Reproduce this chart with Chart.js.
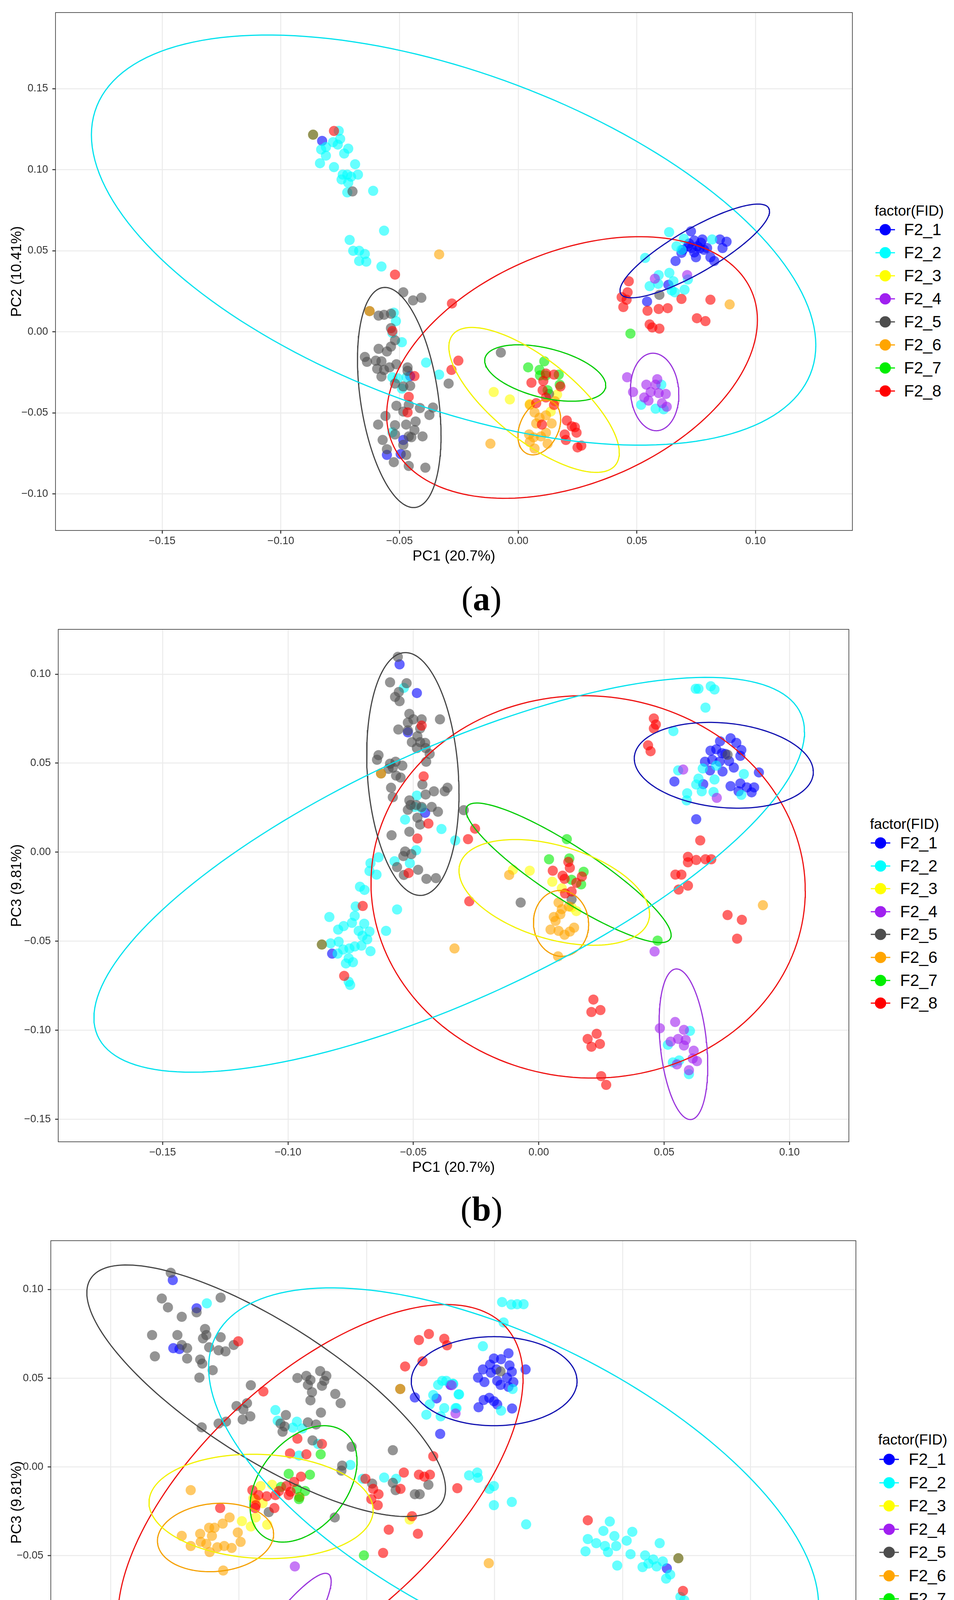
<!DOCTYPE html>
<html>
<head>
<meta charset="utf-8">
<script src="https://cdn.jsdelivr.net/npm/chart.js@4.4.1/dist/chart.umd.min.js"></script>
<style>
  body { margin: 0; background: #fff; width: 2441px; height: 4759px; position: relative; overflow: hidden;
         font-family: "Liberation Sans", Arial, sans-serif; }
  canvas { position: absolute; left: 0; }
  .lg-title, .lg-text { position: absolute; line-height: 1; transform: translateY(-50%); color: #000; white-space: nowrap; }
  .lg-title { font-size: 37px; }
  .lg-text { font-size: 42px; }
  .lg-line { position: absolute; height: 3px; transform: translateY(-50%); }
  .lg-dot { position: absolute; width: 29px; height: 29px; border-radius: 50%; transform: translate(-50%, -50%); }
  .tag { position: absolute; font-family: "Liberation Serif", "Times New Roman", serif; font-size: 88px;
         line-height: 1; transform: translateX(-50%); white-space: nowrap; }
</style>
</head>
<body>
<script>
// ---- groups ----
const groups = ["F2_1", "F2_2", "F2_3", "F2_4", "F2_5", "F2_6", "F2_7", "F2_8"];
const pointColors = ["#0000ff", "#00ffff", "#ffff00", "#a020f0", "#4d4d4d", "#ffa500", "#00ee00", "#ff0000"];
const ellipseColors = ["#1010b0", "#00e2ee", "#f2f200", "#9a35dc", "#454545", "#f5a000", "#00cc00", "#ee1111"];

// ---- panel (a): PC1 vs PC2 ----
const a_F2_1 = [[0.0728,0.062],[0.0742,0.0563],[0.0776,0.057],[0.0715,0.0528],[0.0694,0.0506],[0.0731,0.0517],[0.0755,0.0528],[0.0796,0.0517],[0.085,0.057],[0.0878,0.0556],[0.0861,0.0517],[0.0688,0.0487],[0.0749,0.046],[0.081,0.046],[0.0663,0.0437],[0.0826,0.0437],[0.0742,0.049],[0.0783,0.0506],[0.077,0.055],[0.072,0.0545],[0.0765,0.0515],[0.0543,0.0187],[0.0633,0.029],[-0.0826,0.1178],[-0.0455,-0.0273],[-0.0484,-0.0667],[-0.0553,-0.0759],[-0.0495,-0.0754]];
const a_F2_2 = [[-0.0756,0.124],[-0.075,0.119],[-0.078,0.117],[-0.081,0.114],[-0.083,0.1125],[-0.076,0.1155],[-0.0716,0.113],[-0.0733,0.11],[-0.081,0.1087],[-0.0835,0.104],[-0.0776,0.1016],[-0.0687,0.1034],[-0.0739,0.097],[-0.072,0.097],[-0.0675,0.097],[-0.0704,0.0957],[-0.0744,0.094],[-0.0716,0.092],[-0.072,0.086],[-0.0611,0.087],[-0.0565,0.0624],[-0.071,0.0567],[-0.0695,0.05],[-0.067,0.05],[-0.0646,0.048],[-0.067,0.0437],[-0.064,0.0433],[-0.0576,0.0403],[-0.0524,0.0118],[-0.0515,0.0066],[-0.053,-0.0007],[-0.049,-0.0064],[-0.0388,-0.019],[-0.0333,-0.0264],[-0.053,-0.028],[-0.0507,-0.0287],[-0.049,-0.035],[-0.047,-0.028],[-0.053,-0.062],[0.0636,0.0615],[0.0698,0.0574],[0.0667,0.0528],[0.0688,0.0506],[0.0817,0.057],[0.0535,0.0456],[0.0592,0.035],[0.0637,0.0364],[0.0554,0.0282],[0.059,0.0296],[0.0654,0.0312],[0.0715,0.0323],[0.0701,0.026],[0.0647,0.0255],[0.066,0.0244],[0.0603,-0.0326],[0.0518,-0.045],[0.0579,-0.0474],[0.0613,-0.0478]];
const a_F2_3 = [[-0.0103,-0.0371],[-0.0035,-0.0417],[0.0137,-0.0492],[0.0164,-0.0387],[0.0049,-0.0446],[-0.0864,0.1216]];
const a_F2_4 = [[0.0459,-0.028],[0.054,-0.0326],[0.0586,-0.0292],[0.0579,-0.0326],[0.0484,-0.0371],[0.0558,-0.0371],[0.0592,-0.0378],[0.0622,-0.0383],[0.0531,-0.0405],[0.0549,-0.0424],[0.0606,-0.044],[0.0626,-0.0462],[0.0576,0.0328],[0.0712,0.035]];
const a_F2_5 = [[-0.0484,0.0244],[-0.0443,0.0194],[-0.0408,0.021],[-0.0588,0.01],[-0.0565,0.0105],[-0.0536,0.0112],[-0.0536,0.0023],[-0.0519,-0.0052],[-0.0536,-0.0091],[-0.0588,-0.0105],[-0.0553,-0.0121],[-0.0646,-0.0155],[-0.0637,-0.0185],[-0.06,-0.0178],[-0.0576,-0.0182],[-0.0594,-0.0228],[-0.0565,-0.0235],[-0.0542,-0.0219],[-0.0513,-0.02],[-0.0466,-0.0219],[-0.0466,-0.0241],[-0.0576,-0.0276],[-0.0293,-0.0319],[-0.0519,-0.0319],[-0.0484,-0.0337],[-0.0455,-0.0333],[-0.0513,-0.0456],[-0.0461,-0.0451],[-0.0414,-0.047],[-0.0359,-0.0467],[-0.0559,-0.0519],[-0.0484,-0.0492],[-0.0374,-0.0513],[-0.059,-0.0572],[-0.0519,-0.0576],[-0.0472,-0.0572],[-0.0432,-0.0553],[-0.0437,-0.0606],[-0.0519,-0.0633],[-0.0461,-0.0645],[-0.0403,-0.0645],[-0.0571,-0.0667],[-0.0484,-0.0697],[-0.0553,-0.0724],[-0.0472,-0.0759],[-0.0524,-0.0804],[-0.0461,-0.0827],[-0.0391,-0.0838],[-0.045,-0.065],[-0.0698,0.0866],[-0.0864,0.1216],[-0.0073,-0.0128],[0.013,-0.0383],[-0.0626,0.0128],[0.0595,0.0228]];
const a_F2_6 = [[-0.0333,0.0478],[-0.0626,0.0128],[-0.0117,-0.069],[0.0069,-0.0497],[0.009,-0.053],[0.0117,-0.0515],[0.0076,-0.0565],[0.0141,-0.0565],[0.0046,-0.0633],[0.0065,-0.0651],[0.0096,-0.0645],[0.0117,-0.0622],[0.0049,-0.0679],[0.0124,-0.069],[0.0069,-0.072],[0.0155,-0.0428],[0.0049,-0.045],[0.0891,0.0169]];
const a_F2_7 = [[0.0042,-0.0219],[0.011,-0.0182],[0.009,-0.0235],[0.0117,-0.0269],[0.0171,-0.0264],[0.0175,-0.0326],[0.0092,-0.0269],[0.0473,-0.0011],[0.0124,-0.036]];
const a_F2_8 = [[-0.0776,0.1239],[-0.0519,0.0353],[-0.0279,0.0175],[-0.0252,-0.0178],[-0.0281,-0.0235],[-0.0437,-0.0273],[-0.053,0.0005],[-0.0461,-0.0401],[-0.0466,-0.0497],[0.0056,-0.0314],[0.0117,-0.0257],[0.0151,-0.0264],[0.0106,-0.0303],[0.0103,-0.036],[0.0178,-0.0337],[0.0076,-0.044],[0.0117,-0.0405],[0.0151,-0.0451],[0.01,-0.0572],[0.0205,-0.0547],[0.0226,-0.0583],[0.0246,-0.0622],[0.0239,-0.0588],[0.0196,-0.0633],[0.0201,-0.0667],[0.025,-0.0713],[0.0266,-0.0702],[0.0466,0.0312],[0.0461,0.0244],[0.0436,0.0214],[0.0457,0.0198],[0.0443,0.0153],[0.0545,0.013],[0.0592,0.0141],[0.063,0.0146],[0.0688,0.0203],[0.081,0.0198],[0.0753,0.0084],[0.0789,0.0066],[0.0554,0.0046],[0.0565,0.0027],[0.0595,0.002]];
// ellipse per group: centre x, centre y, half width, half height, correlation
const a_ellipses = [[0.0744,0.0499,0.0315,0.0289,0.845],[-0.0272,0.0566,0.1526,0.1265,-0.513],[0.0067,-0.042,0.0359,0.0447,-0.729],[0.0575,-0.0371,0.0102,0.0239,-0.067],[-0.0501,-0.0405,0.0176,0.0679,-0.343],[0.0089,-0.059,0.009,0.0169,0.308],[0.0114,-0.0254,0.0255,0.0174,-0.44],[0.0227,-0.022,0.0781,0.0807,0.363]];
const a_xTicks = [-0.15, -0.10, -0.05, 0.00, 0.05, 0.10];
const a_xTickLabels = ["\u22120.15", "\u22120.10", "\u22120.05", "0.00", "0.05", "0.10"];
const a_yTicks = [-0.10, -0.05, 0.00, 0.05, 0.10, 0.15];
const a_yTickLabels = ["\u22120.10", "\u22120.05", "0.00", "0.05", "0.10", "0.15"];

// ---- panel (b): PC1 vs PC3 ----
const b_F2_1 = [[0.0723,0.0623],[0.0765,0.064],[0.0788,0.0614],[0.0685,0.057],[0.0708,0.0578],[0.0731,0.0556],[0.0744,0.0552],[0.0808,0.0574],[0.0804,0.0541],[0.0663,0.0508],[0.0692,0.0519],[0.0721,0.0508],[0.0759,0.0512],[0.0683,0.0459],[0.0733,0.0453],[0.0778,0.0475],[0.0541,0.0397],[0.0656,0.0382],[0.0765,0.0371],[0.0804,0.0386],[0.083,0.0364],[0.0859,0.0364],[0.0797,0.0342],[0.0849,0.0336],[0.0878,0.0448],[0.0628,0.0185],[-0.0555,0.1055],[-0.0486,0.0894],[-0.0522,0.0673],[-0.0453,0.0221],[-0.0824,-0.057]];
const b_F2_2 = [[-0.0538,0.0923],[-0.0486,0.0318],[-0.0495,0.0254],[-0.0467,0.0247],[-0.0533,0.0183],[-0.0388,0.013],[-0.0333,0.0066],[-0.0489,0.0011],[-0.0639,-0.0029],[-0.0575,-0.0051],[-0.0514,-0.0062],[-0.0671,-0.0062],[-0.0675,-0.0106],[-0.0647,-0.0126],[-0.0713,-0.0194],[-0.0695,-0.0212],[-0.0565,-0.0322],[-0.073,-0.0305],[-0.0835,-0.0364],[-0.0734,-0.0358],[-0.0778,-0.0415],[-0.08,-0.0435],[-0.0745,-0.0397],[-0.0696,-0.0402],[-0.0718,-0.0442],[-0.0675,-0.0446],[-0.0703,-0.047],[-0.0684,-0.049],[-0.0609,-0.0442],[-0.083,-0.0512],[-0.0798,-0.0503],[-0.0734,-0.053],[-0.0707,-0.0525],[-0.0755,-0.0541],[-0.078,-0.0547],[-0.0802,-0.057],[-0.0671,-0.0556],[-0.0758,-0.0596],[-0.0741,-0.0618],[-0.0769,-0.0625],[-0.0758,-0.0728],[-0.0752,-0.0746],[0.0637,0.0918],[0.0626,0.0918],[0.0686,0.0932],[0.0701,0.0914],[0.0665,0.0812],[0.0537,0.068],[0.0556,0.0459],[0.0654,0.047],[0.0708,0.0486],[0.0701,0.0408],[0.0637,0.0413],[0.0628,0.038],[0.065,0.0342],[0.0592,0.0331],[0.059,0.0291],[0.0697,0.0338],[0.0818,0.0439],[0.0808,0.0322],[0.0603,-0.1004],[0.0515,-0.1082],[0.0535,-0.1181],[0.056,-0.117],[0.0599,-0.1247]];
const b_F2_3 = [[-0.0036,-0.0104],[-0.0103,-0.0099],[0.0054,-0.0166],[0.0092,-0.0203],[0.015,-0.0331],[0.0131,-0.0309],[-0.0865,-0.0519]];
const b_F2_4 = [[0.0576,0.0464],[0.071,0.0305],[0.0462,-0.0558],[0.0483,-0.0989],[0.0544,-0.0954],[0.0579,-0.0998],[0.0556,-0.1049],[0.0586,-0.1055],[0.0579,-0.1086],[0.0526,-0.1064],[0.0618,-0.1115],[0.0614,-0.1159],[0.0631,-0.1174],[0.0551,-0.1192],[0.0599,-0.1225]];
const b_F2_5 = [[-0.0562,0.1097],[-0.0593,0.0954],[-0.0527,0.0949],[-0.0558,0.09],[-0.0573,0.0872],[-0.0555,0.0848],[-0.0516,0.0777],[-0.0522,0.0728],[-0.05,0.0746],[-0.0467,0.0746],[-0.0394,0.0746],[-0.056,0.0689],[-0.0522,0.0684],[-0.0473,0.0695],[-0.0484,0.0651],[-0.0506,0.0618],[-0.0473,0.0618],[-0.0453,0.0614],[-0.0486,0.0585],[-0.0451,0.0585],[-0.0435,0.0552],[-0.0639,0.0545],[-0.0645,0.0519],[-0.0593,0.0497],[-0.0571,0.0508],[-0.0544,0.0486],[-0.0599,0.0468],[-0.0582,0.0475],[-0.0449,0.0508],[-0.0569,0.043],[-0.0551,0.0419],[-0.0464,0.038],[-0.0589,0.0362],[-0.0451,0.0324],[-0.0418,0.0342],[-0.0375,0.0342],[-0.0364,0.0362],[-0.0582,0.0309],[-0.0516,0.0291],[-0.0511,0.0265],[-0.0522,0.0238],[-0.0489,0.0265],[-0.0467,0.0254],[-0.0427,0.0254],[-0.0402,0.0227],[-0.0484,0.0194],[-0.0473,0.0155],[-0.0516,0.0115],[-0.0587,0.0095],[-0.0533,0.0004],[-0.0508,-0.0011],[-0.054,-0.0022],[-0.0565,-0.0084],[-0.0538,-0.0128],[-0.0481,-0.0099],[-0.0448,-0.015],[-0.041,-0.0146],[-0.0299,0.0236],[-0.0865,-0.0519],[0.0753,0.0547],[-0.0072,-0.0283],[0.0131,-0.0265],[-0.0629,0.0442]];
const b_F2_6 = [[-0.0118,-0.0128],[-0.0336,-0.0541],[0.0079,-0.0283],[0.006,-0.0364],[0.0086,-0.0349],[0.0067,-0.0386],[0.0047,-0.0435],[0.0079,-0.0442],[0.0103,-0.0464],[0.0124,-0.0446],[0.0141,-0.0424],[0.0092,-0.032],[0.0077,-0.0585],[0.0894,-0.0298],[0.012,-0.0305],[-0.0629,0.0442]];
const b_F2_7 = [[0.0112,0.0073],[0.0041,-0.004],[0.0122,-0.0035],[0.0179,-0.011],[0.0169,-0.0181],[0.0474,-0.0497],[0.0131,-0.0155]];
const b_F2_8 = [[-0.0467,0.0711],[-0.0459,0.0426],[-0.044,0.0161],[-0.0484,0.0077],[-0.0519,-0.0117],[-0.0702,-0.0302],[-0.0776,-0.0695],[-0.0254,0.0132],[-0.0282,0.0073],[-0.0277,-0.0276],[0.0459,0.0751],[0.0467,0.0717],[0.0459,0.0695],[0.0436,0.06],[0.0446,0.0567],[0.0118,-0.0055],[0.0124,-0.0088],[0.0056,-0.0104],[0.0095,-0.0132],[0.0103,-0.015],[0.015,-0.0172],[0.0172,-0.0137],[0.0105,-0.0232],[0.0131,-0.0221],[0.0644,0.0066],[0.0595,-0.0026],[0.0595,-0.0057],[0.0628,-0.0044],[0.0665,-0.004],[0.0688,-0.004],[0.0545,-0.0126],[0.0569,-0.0126],[0.0558,-0.021],[0.0595,-0.0188],[0.0753,-0.0353],[0.081,-0.038],[0.0791,-0.0486],[0.0218,-0.0828],[0.021,-0.0898],[0.0246,-0.0887],[0.0231,-0.102],[0.0195,-0.1049],[0.021,-0.1093],[0.0244,-0.1077],[0.0249,-0.1258],[0.0269,-0.1307]];
const b_ellipses = [[0.0738,0.0488,0.0357,0.0241,-0.157],[-0.0357,-0.0127,0.1417,0.1109,0.724],[0.0062,-0.0226,0.038,0.0297,-0.41],[0.0577,-0.1079,0.0097,0.0423,-0.285],[-0.0502,0.0439,0.0184,0.0682,-0.16],[0.0089,-0.04,0.011,0.0185,-0.03],[0.0119,-0.0116,0.0409,0.0392,-0.895],[0.0197,-0.0195,0.0866,0.1074,-0.02]];
const b_xTicks = [-0.15, -0.10, -0.05, 0.00, 0.05, 0.10];
const b_xTickLabels = ["\u22120.15", "\u22120.10", "\u22120.05", "0.00", "0.05", "0.10"];
const b_yTicks = [-0.15, -0.10, -0.05, 0.00, 0.05, 0.10];
const b_yTickLabels = ["\u22120.15", "\u22120.10", "\u22120.05", "0.00", "0.05", "0.10"];

// ---- panel (c): PC2 vs PC3 ----
const c_F2_1 = [[-0.0758,0.1053],[-0.0665,0.0894],[-0.0756,0.0669],[-0.0732,0.0664],[0.0188,0.0391],[0.0287,0.0186],[0.0273,0.0386],[0.0327,0.0462],[0.0497,0.0611],[0.0525,0.0607],[0.0554,0.064],[0.0454,0.0549],[0.0482,0.0577],[0.0507,0.0549],[0.0558,0.0572],[0.0567,0.0536],[0.0621,0.0549],[0.0435,0.0503],[0.046,0.0478],[0.0485,0.0531],[0.051,0.0485],[0.0523,0.0462],[0.0548,0.0503],[0.0573,0.0478],[0.0554,0.0451],[0.0457,0.0377],[0.0479,0.0389],[0.0497,0.037],[0.051,0.0352],[0.0437,0.0336],[0.0568,0.0329],[0.1173,-0.0572]];
const c_F2_2 = [[-0.0625,0.0922],[-0.0357,0.032],[-0.0348,0.026],[-0.0273,0.0255],[-0.0289,0.0221],[-0.0252,0.0216],[-0.0265,0.0064],[-0.019,0.0129],[-0.0064,0.0011],[-0.0016,-0.0067],[0.0068,-0.006],[0.0115,-0.0067],[0.04,-0.0048],[-0.0456,-0.1083],[-0.0472,-0.109],[-0.04,-0.117],[-0.0327,-0.1009],[-0.0482,-0.1244],[0.0279,0.0462],[0.0295,0.0485],[0.0311,0.0485],[0.0338,0.0467],[0.0361,0.0409],[0.026,0.0405],[0.0246,0.0352],[0.0303,0.0331],[0.0351,0.0331],[0.0233,0.0294],[0.0289,0.0285],[0.0529,0.0929],[0.0565,0.0915],[0.0588,0.0917],[0.0613,0.0917],[0.0535,0.0814],[0.0454,0.068],[0.0337,0.0469],[0.0359,0.0409],[0.0347,0.0331],[0.0525,0.0317],[0.057,0.0439],[0.0432,-0.0032],[0.0435,-0.0062],[0.0479,-0.0124],[0.0497,-0.0108],[0.0497,-0.0216],[0.0567,-0.0198],[0.0623,-0.0324],[0.095,-0.0308],[0.0925,-0.0361],[0.1038,-0.0366],[0.0864,-0.0407],[0.0897,-0.043],[0.0931,-0.0446],[0.0968,-0.039],[0.0975,-0.0446],[0.1016,-0.0416],[0.0855,-0.0476],[0.0943,-0.048],[0.1031,-0.0492],[0.0979,-0.0556],[0.1088,-0.0499],[0.112,-0.0522],[0.1101,-0.0545],[0.1145,-0.043],[0.1078,-0.0565],[0.1133,-0.0561],[0.1157,-0.0533],[0.1186,-0.0607],[0.117,-0.063],[0.1226,-0.0733],[0.1241,-0.0752]];
const c_F2_3 = [[-0.0415,-0.0108],[-0.037,-0.0101],[-0.0443,-0.0177],[-0.0407,-0.0205],[-0.0488,-0.0306],[-0.0389,-0.0326],[-0.0453,-0.0336],[-0.0434,-0.0285],[0.0168,-0.0297],[0.1218,-0.0515]];
const c_F2_4 = [[-0.0281,-0.0561],[-0.0372,-0.0991],[-0.0354,-0.0998],[-0.0324,-0.0956],[-0.0413,-0.1074],[-0.0375,-0.1051],[-0.0317,-0.1048],[-0.0293,-0.1044],[-0.0378,-0.1097],[-0.0375,-0.112],[-0.0482,-0.1152],[-0.0464,-0.1182],[-0.0434,-0.1166],[-0.0423,-0.1193],[-0.0379,-0.1228],[-0.0311,-0.1067],[0.0332,0.046],[0.0347,0.0301]];
const c_F2_5 = [[-0.0766,0.1094],[-0.0801,0.0949],[-0.0777,0.0899],[-0.0723,0.0846],[-0.0665,0.0871],[-0.0571,0.0954],[-0.0839,0.0743],[-0.074,0.0743],[-0.0632,0.0777],[-0.0627,0.0743],[-0.064,0.0724],[-0.0571,0.0731],[-0.0723,0.0687],[-0.0702,0.0669],[-0.0828,0.0623],[-0.0702,0.0611],[-0.0651,0.0605],[-0.0643,0.0582],[-0.0616,0.0674],[-0.0579,0.0657],[-0.0552,0.0651],[-0.052,0.0687],[-0.0654,0.0503],[-0.0602,0.0545],[-0.0453,0.046],[-0.0468,0.0359],[-0.0509,0.0343],[-0.0482,0.0324],[-0.0455,0.0285],[-0.0485,0.0267],[-0.055,0.0255],[-0.0579,0.0244],[-0.0645,0.0223],[-0.0316,0.0292],[-0.0337,0.0244],[-0.0321,0.0228],[-0.0329,0.0198],[-0.0271,0.0501],[-0.0236,0.0513],[-0.022,0.049],[-0.023,0.0462],[-0.0182,0.054],[-0.0158,0.0513],[-0.0166,0.0485],[-0.0175,0.0457],[-0.0214,0.0421],[-0.022,0.0375],[-0.0123,0.0411],[-0.0102,0.0359],[-0.0179,0.0306],[-0.023,0.0251],[-0.0198,0.0239],[-0.0212,0.0149],[-0.0059,0.0113],[-0.0096,0.0007],[-0.0099,-0.0021],[0.0102,0.0094],[0.0021,-0.0094],[0.0102,-0.009],[0.0113,-0.0131],[0.0241,-0.0101],[0.0188,-0.0154],[0.0207,-0.0154],[-0.0125,-0.0285],[-0.0383,-0.0255],[0.0523,0.0538],[0.1218,-0.0515],[0.0131,0.0439],[-0.0263,-0.017]];
const c_F2_6 = [[-0.0688,-0.0131],[-0.0595,-0.0343],[-0.0616,-0.0343],[-0.0563,-0.032],[-0.0536,-0.0285],[-0.0504,-0.037],[-0.0651,-0.0377],[-0.0723,-0.0389],[-0.0605,-0.0389],[-0.0688,-0.0446],[-0.0627,-0.0434],[-0.0493,-0.0423],[-0.0649,-0.0423],[-0.0614,-0.048],[-0.0584,-0.0453],[-0.0557,-0.0446],[-0.0528,-0.0457],[-0.0561,-0.0584],[-0.0436,-0.0182],[0.0131,0.0439],[0.0477,-0.0543],[-0.0263,-0.017]];
const c_F2_7 = [[-0.0305,-0.0039],[-0.0222,-0.0044],[-0.018,0.0071],[-0.0273,-0.0124],[-0.0241,-0.0136],[-0.0265,-0.0182],[-0.0335,-0.0113],[-0.0011,-0.0499]];
const c_F2_8 = [[-0.0502,0.0708],[-0.0404,0.0425],[-0.0175,0.0129],[-0.03,0.0076],[-0.0236,0.0071],[-0.0271,0.0159],[-0.0257,-0.0055],[-0.0284,-0.0085],[-0.0314,-0.0108],[-0.0447,-0.0131],[-0.0423,-0.0159],[-0.0391,-0.0166],[-0.0357,-0.0159],[-0.0343,-0.0136],[-0.0305,-0.0159],[-0.0298,-0.014],[-0.0361,-0.0232],[-0.0434,-0.0216],[-0.0436,-0.0232],[-0.0573,-0.0232],[0.0204,0.0715],[0.0243,0.0749],[0.0303,0.0722],[0.0314,0.0685],[0.0218,0.0595],[0.015,0.0566],[0.026,0.006],[0.0145,-0.0032],[0.0204,-0.0044],[0.0225,-0.0055],[0.0247,-0.0044],[-0.0005,-0.0067],[0.0025,-0.0124],[0.0046,-0.0154],[0.0132,-0.0124],[0.0018,-0.0182],[0.0043,-0.0216],[0.0177,-0.0278],[0.0086,-0.0354],[0.02,-0.0377],[0.0064,-0.0485],[0.0354,-0.012],[-0.0584,-0.0825],[-0.0611,-0.0887],[-0.0552,-0.0894],[-0.0668,-0.1039],[-0.0632,-0.1044],[-0.0638,-0.1078],[-0.059,-0.1021],[-0.0547,-0.106],[-0.0716,-0.1257],[-0.0702,-0.1308],[0.0864,-0.0301],[0.1236,-0.0699]];
const c_ellipses = [[0.0498,0.0483,0.0324,0.0251,0.0],[0.0574,-0.011,0.1192,0.1119,-0.598],[-0.0413,-0.0223,0.0438,0.0294,-0.074],[-0.0375,-0.1072,0.0236,0.0472,0.907],[-0.0393,0.0429,0.0701,0.0709,-0.779],[-0.0591,-0.0398,0.0227,0.0193,0.10],[-0.0247,-0.0096,0.0209,0.0328,0.388],[-0.0181,-0.0174,0.0792,0.1089,0.62]];
const c_xTicks = [-0.10, -0.05, 0.00, 0.05, 0.10, 0.15];
const c_xTickLabels = ["\u22120.10", "\u22120.05", "0.00", "0.05", "0.10", "\u22120.15"];
const c_yTicks = [-0.15, -0.10, -0.05, 0.00, 0.05, 0.10];
const c_yTickLabels = ["\u22120.15", "\u22120.10", "\u22120.05", "0.00", "0.05", "0.10"];

// ---- page layout (pixels) ----
const panels = [
  { points: [a_F2_1, a_F2_2, a_F2_3, a_F2_4, a_F2_5, a_F2_6, a_F2_7, a_F2_8], ellipses: a_ellipses,
    xTicks: a_xTicks, xLabels: a_xTickLabels, yTicks: a_yTicks, yLabels: a_yTickLabels,
    xTitle: "PC1 (20.7%)", yTitle: "PC2 (10.41%)", tag: "a",
    plot: { left: 142, top: 17, right: 2182, bottom: 1358 },
    xRange: [-0.19493, 0.14081], yRange: [-0.12253, 0.19694],
    legend: { titleX: 2238, titleY: 539, y0: 588, step: 59, keyX: 2265, textX: 2313 }, tagY: 1531 },
  { points: [b_F2_1, b_F2_2, b_F2_3, b_F2_4, b_F2_5, b_F2_6, b_F2_7, b_F2_8], ellipses: b_ellipses,
    xTicks: b_xTicks, xLabels: b_xTickLabels, yTicks: b_yTicks, yLabels: b_yTickLabels,
    xTitle: "PC1 (20.7%)", yTitle: "PC3 (9.81%)", tag: "b",
    plot: { left: 149, top: 1596, right: 2173, bottom: 2923 },
    xRange: [-0.19163, 0.12368], yRange: [-0.16269, 0.12515],
    legend: { titleX: 2226, titleY: 2109, y0: 2158, step: 58.6, keyX: 2253, textX: 2303 }, tagY: 3094 },
  { points: [c_F2_1, c_F2_2, c_F2_3, c_F2_4, c_F2_5, c_F2_6, c_F2_7, c_F2_8], ellipses: c_ellipses,
    xTicks: c_xTicks, xLabels: c_xTickLabels, yTicks: c_yTicks, yLabels: c_yTickLabels,
    xTitle: "PC2 (10.41%)", yTitle: "PC3 (9.81%)", tag: "c",
    plot: { left: 130, top: 3161, right: 2191, bottom: 4516 },
    xRange: [-0.12348, 0.19119], yRange: [-0.16751, 0.12748],
    legend: { titleX: 2247, titleY: 3685, y0: 3736, step: 59.5, keyX: 2275, textX: 2325 }, tagY: 4690 }
];

const FONT = "'Liberation Sans', Arial, sans-serif";
const PAD_TOP = 12, PAD_RIGHT = 12, X_AXIS_H = 89;

function withAlpha(hex, a) {
  const n = parseInt(hex.slice(1), 16);
  return `rgba(${n >> 16},${(n >> 8) & 255},${n & 255},${a})`;
}

// outline of a covariance ellipse, sampled along its parameter
function ellipsePath(e) {
  const [cx, cy, sx, sy, r] = e;
  const k = Math.sqrt(1 - r * r);
  const pts = [];
  for (let i = 0; i <= 180; i++) {
    const t = (i / 180) * 2 * Math.PI;
    pts.push({ x: cx + sx * Math.cos(t), y: cy + sy * (r * Math.cos(t) + k * Math.sin(t)) });
  }
  return pts;
}

const framePlugin = {
  id: "frame",
  afterDraw(chart) {
    const { ctx, chartArea: a } = chart;
    ctx.save();
    ctx.strokeStyle = "#333";
    ctx.lineWidth = 1.6;
    ctx.strokeRect(a.left, a.top, a.right - a.left, a.bottom - a.top);
    ctx.restore();
  }
};

function labelFor(ticks, labels, v) {
  const i = ticks.findIndex(t => Math.abs(t - v) < 1e-9);
  return i < 0 ? "" : labels[i];
}

function axis(range, ticks, labels, title, horizontal, p) {
  return {
    type: "linear",
    min: range[0],
    max: range[1],
    afterBuildTicks: s => { s.ticks = ticks.map(v => ({ value: v })); },
    afterFit: s => { if (horizontal) s.height = X_AXIS_H; else s.width = p.plot.left; },
    ticks: {
      callback: v => labelFor(ticks, labels, v),
      font: { family: FONT, size: 27 },
      color: "#333",
      padding: horizontal ? 3 : 11,
      maxRotation: 0,
      autoSkip: false,
      includeBounds: false
    },
    grid: { color: "#ebebeb", lineWidth: 2.5, tickColor: "#333", tickLength: 8, tickWidth: 2.5 },
    border: { display: false },
    title: {
      display: true,
      text: title,
      color: "#000",
      font: { family: FONT, size: 37 },
      padding: horizontal ? 0 : { top: 22, bottom: 0 }
    }
  };
}

function renderPanel(p) {
  const w = p.plot.right + PAD_RIGHT;
  const h = p.plot.bottom - p.plot.top + PAD_TOP + X_AXIS_H;
  const canvas = document.createElement("canvas");
  canvas.width = w;
  canvas.height = h;
  canvas.style.top = (p.plot.top - PAD_TOP) + "px";
  canvas.style.width = w + "px";
  canvas.style.height = h + "px";
  document.body.appendChild(canvas);

  const datasets = [];
  groups.forEach((g, i) => {
    datasets.push({
      label: g,
      data: p.points[i].map(([x, y]) => ({ x, y })),
      backgroundColor: withAlpha(pointColors[i], 0.6),
      borderWidth: 0,
      pointRadius: 13,
      pointHoverRadius: 13,
      order: 20 - i
    });
  });
  groups.forEach((g, i) => {
    datasets.push({
      label: g + " ellipse",
      data: ellipsePath(p.ellipses[i]),
      showLine: true,
      borderColor: ellipseColors[i],
      borderWidth: 3,
      pointRadius: 0,
      fill: false,
      tension: 0,
      order: 0
    });
  });

  new Chart(canvas, {
    type: "scatter",
    data: { datasets },
    options: {
      responsive: false,
      animation: false,
      events: [],
      layout: { padding: { top: PAD_TOP, right: PAD_RIGHT, left: 0, bottom: 0 } },
      plugins: { legend: { display: false }, tooltip: { enabled: false } },
      scales: {
        x: axis(p.xRange, p.xTicks, p.xLabels, p.xTitle, true, p),
        y: axis(p.yRange, p.yTicks, p.yLabels, p.yTitle, false, p)
      }
    },
    plugins: [framePlugin]
  });

  renderLegend(p.legend);

  const tag = document.createElement("div");
  tag.className = "tag";
  tag.style.left = "1232px";
  tag.style.top = (p.tagY - 42) + "px";
  tag.innerHTML = "(<b>" + p.tag + "</b>)";
  document.body.appendChild(tag);
}

function addEl(cls, css, text) {
  const el = document.createElement("div");
  el.className = cls;
  Object.assign(el.style, css);
  if (text) el.textContent = text;
  document.body.appendChild(el);
}

function renderLegend(L) {
  addEl("lg-title", { left: L.titleX + "px", top: L.titleY + "px" }, "factor(FID)");
  groups.forEach((g, i) => {
    const y = L.y0 + i * L.step;
    addEl("lg-line", { left: (L.keyX - 25) + "px", top: y + "px", width: "50px", background: pointColors[i] });
    addEl("lg-dot", { left: L.keyX + "px", top: y + "px", background: pointColors[i] });
    addEl("lg-text", { left: L.textX + "px", top: y + "px" }, g);
  });
}

panels.forEach(renderPanel);
</script>
</body>
</html>
